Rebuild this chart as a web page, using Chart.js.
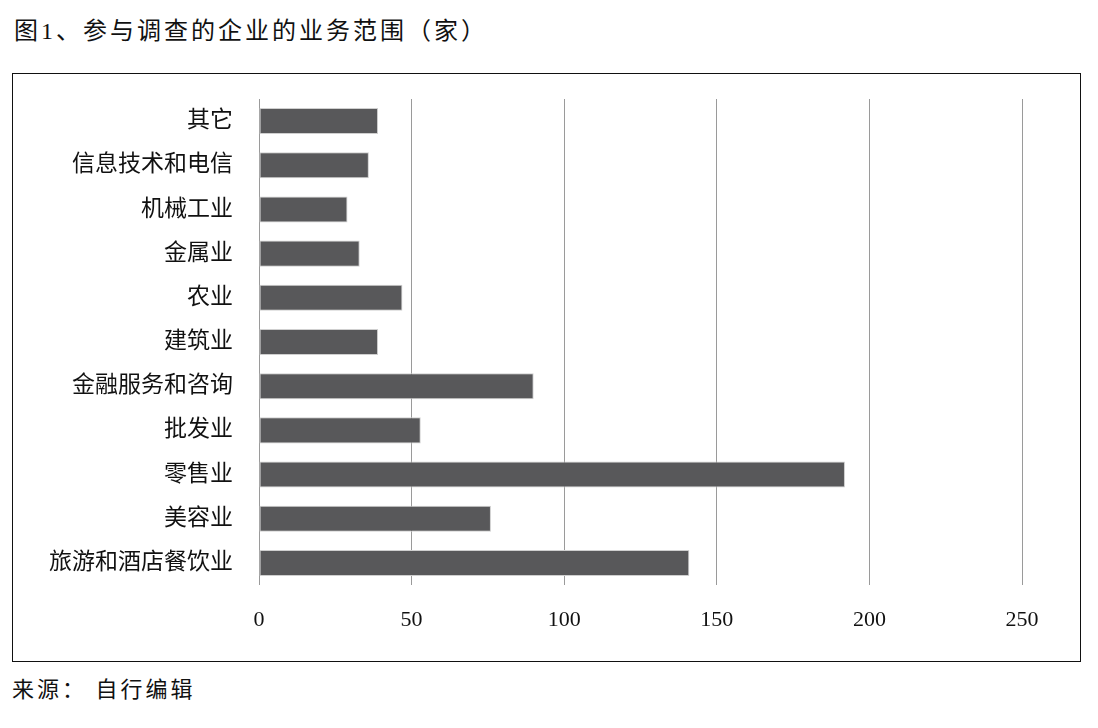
<!DOCTYPE html>
<html>
<head>
<meta charset="utf-8">
<script src="https://cdn.jsdelivr.net/npm/chart.js@4.4.0/dist/chart.umd.min.js"></script>
<style>
  html, body { margin: 0; padding: 0; background: #fff; }
  body { width: 1098px; height: 728px; position: relative; overflow: hidden;
         font-family: 'Liberation Serif', 'Noto Sans CJK SC', serif; color: #111; }
  #title { position: absolute; left: 14px; top: 18px; font-size: 24px; line-height: 26px;
           letter-spacing: 3px; white-space: nowrap; }
  #frame { position: absolute; left: 12px; top: 73px; width: 1069px; height: 589px;
           box-sizing: border-box; border: 1.5px solid #111; }
  #wrap { position: absolute; left: 0; top: 0; width: 1066px; height: 586px; }
  #source { position: absolute; left: 12px; top: 677px; font-size: 22px; line-height: 26px;
            letter-spacing: 3px; white-space: nowrap; }
</style>
</head>
<body>
<div id="title">图1、参与调查的企业的业务范围（家）</div>
<div id="frame"><div id="wrap"><canvas id="c" width="1066" height="586"></canvas></div></div>
<div id="source">来源： 自行编辑</div>
<script>
const categories = ['其它', '信息技术和电信', '机械工业', '金属业', '农业', '建筑业', '金融服务和咨询', '批发业', '零售业', '美容业', '旅游和酒店餐饮业'];
const counts = [39, 36, 29, 33, 47, 39, 90, 53, 192, 76, 141];
const xTicks = [0, 50, 100, 150, 200, 250];

const fontFamily = "'Liberation Serif', 'Noto Sans CJK SC', serif";

new Chart(document.getElementById('c'), {
  type: 'bar',
  data: {
    labels: categories,
    datasets: [{
      data: counts,
      backgroundColor: '#58585a',
      borderColor: '#cfcfcf',
      borderWidth: 1,
      borderSkipped: false,
      barPercentage: 0.59,
      categoryPercentage: 1
    }]
  },
  options: {
    indexAxis: 'y',
    responsive: false,
    animation: false,
    devicePixelRatio: 1,
    layout: { padding: { top: 25, right: 57, left: 0, bottom: 0 } },
    plugins: { legend: { display: false }, tooltip: { enabled: false } },
    scales: {
      x: {
        min: 0, max: 250,
        afterBuildTicks: s => { s.ticks = xTicks.map(v => ({ value: v })); },
        afterFit: s => { s.height = 75; },
        grid: { color: '#9a9a9a', lineWidth: 1, drawTicks: false },
        border: { display: false },
        ticks: { padding: 22, color: '#111', font: { family: fontFamily, size: 22 } }
      },
      y: {
        afterFit: s => { s.width = 246; s.paddingTop = 0; s.paddingBottom = 0; },
        grid: { display: false, drawTicks: false },
        border: { display: false },
        ticks: { padding: 26, color: '#111', font: { family: fontFamily, size: 23 } }
      }
    }
  }
});
</script>
</body>
</html>
